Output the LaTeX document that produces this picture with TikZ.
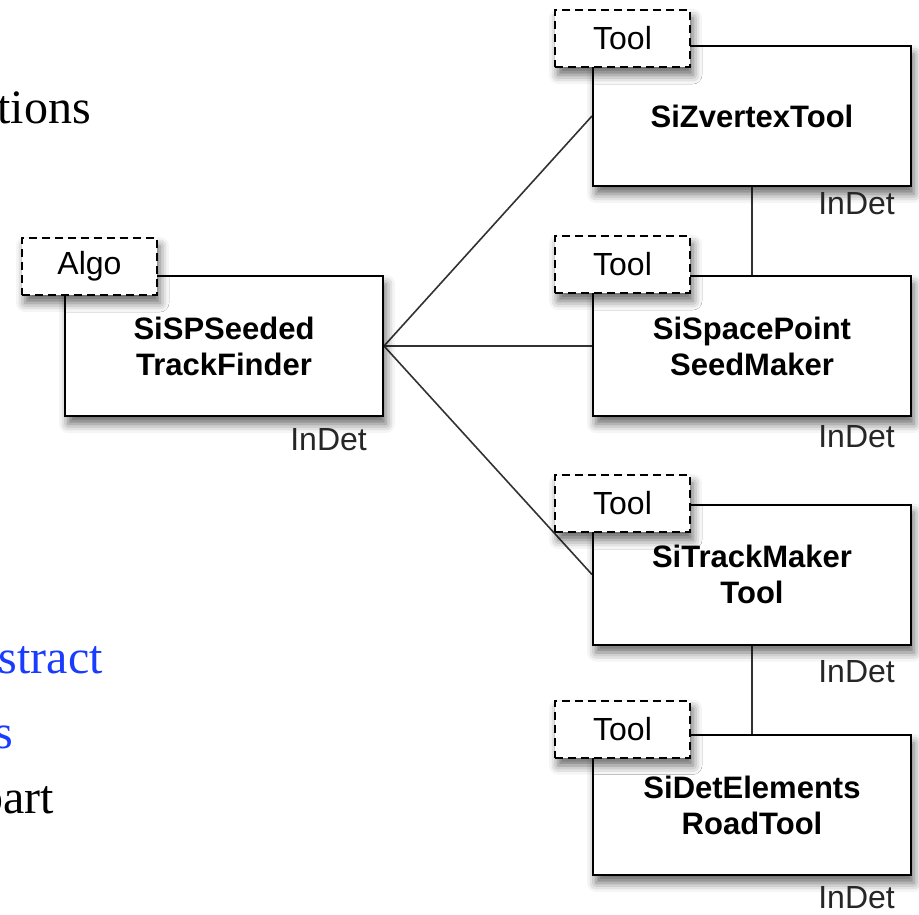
\documentclass[tikz,border=0pt]{standalone}
\usepackage{fontspec}
\setmainfont{Liberation Sans}
\newfontfamily\serifface{Liberation Serif}
\usetikzlibrary{shadows.blur,backgrounds}
\definecolor{linkblue}{RGB}{25,60,255}
\definecolor{linegray}{RGB}{50,50,50}
\begin{document}
\begin{tikzpicture}[x=1pt,y=-1pt,
  comp/.style={draw=black, line width=2pt, fill=white, minimum width=318pt,
    minimum height=140pt, inner sep=0pt, align=center,
    font=\fontsize{31}{36}\selectfont\bfseries,
    blur shadow={shadow xshift=3pt, shadow yshift=-8pt, shadow blur radius=9pt, shadow opacity=60}},
  tabbox/.style={draw=black, line width=2pt, dash pattern=on 8pt off 5pt, fill=white,
    minimum width=135pt, minimum height=57pt, inner sep=0pt,
    font=\fontsize{32}{34}\selectfont,
    blur shadow={shadow xshift=3pt, shadow yshift=-8pt, shadow blur radius=9pt, shadow opacity=60}},
  pkg/.style={font=\fontsize{32}{34}\selectfont, anchor=east, inner sep=0pt, text=black!85},
  link/.style={draw=linegray, line width=1.6pt},
  side/.style={font=\serifface\fontsize{48}{56}\selectfont, anchor=base east, inner sep=0pt}]
\useasboundingbox (0,0) rectangle (919,914);

% left side text fragments
\node[side] (t1) at (91,123) {tions};
\node[side, text=linkblue] (t2) at (103,673) {stract};
\node[side, text=linkblue] (t3) at (13,748) {s};
\node[side] (t4) at (54,813) {part};

% algorithm
\node[comp] (finder) at (224,346) {SiSPSeeded\\TrackFinder};
\node[tabbox] (finderTab) at (89.5,266.5) {Algo};
\node[pkg] (finderPkg) at (367,440) {InDet};

% tools
\node[comp] (zvertex) at (752,116) {SiZvertexTool};
\node[tabbox] (zvertexTab) at (622.5,38.5) {Tool};
\node[pkg] (zvertexPkg) at (895,204) {InDet};

\node[comp] (seedmaker) at (752,346) {SiSpacePoint\\SeedMaker};
\node[tabbox] (seedmakerTab) at (622.5,264.5) {Tool};
\node[pkg] (seedmakerPkg) at (895,437) {InDet};

\node[comp] (trackmaker) at (752,574.5) {SiTrackMaker\\Tool};
\node[tabbox] (trackmakerTab) at (622.5,503.5) {Tool};
\node[pkg] (trackmakerPkg) at (895,672) {InDet};

\node[comp] (road) at (752,805) {SiDetElements\\RoadTool};
\node[tabbox] (roadTab) at (622.5,729) {Tool};
\node[pkg] (roadPkg) at (895,898) {InDet};

\begin{scope}[on background layer]
  \draw[link] (finder.east) -- (zvertex.west);
  \draw[link] (finder.east) -- (seedmaker.west);
  \draw[link] (finder.east) -- (trackmaker.west);
  \draw[link] (zvertex.south) -- (seedmaker.north);
  \draw[link] (trackmaker.south) -- (road.north);
\end{scope}
\end{tikzpicture}
\end{document}
